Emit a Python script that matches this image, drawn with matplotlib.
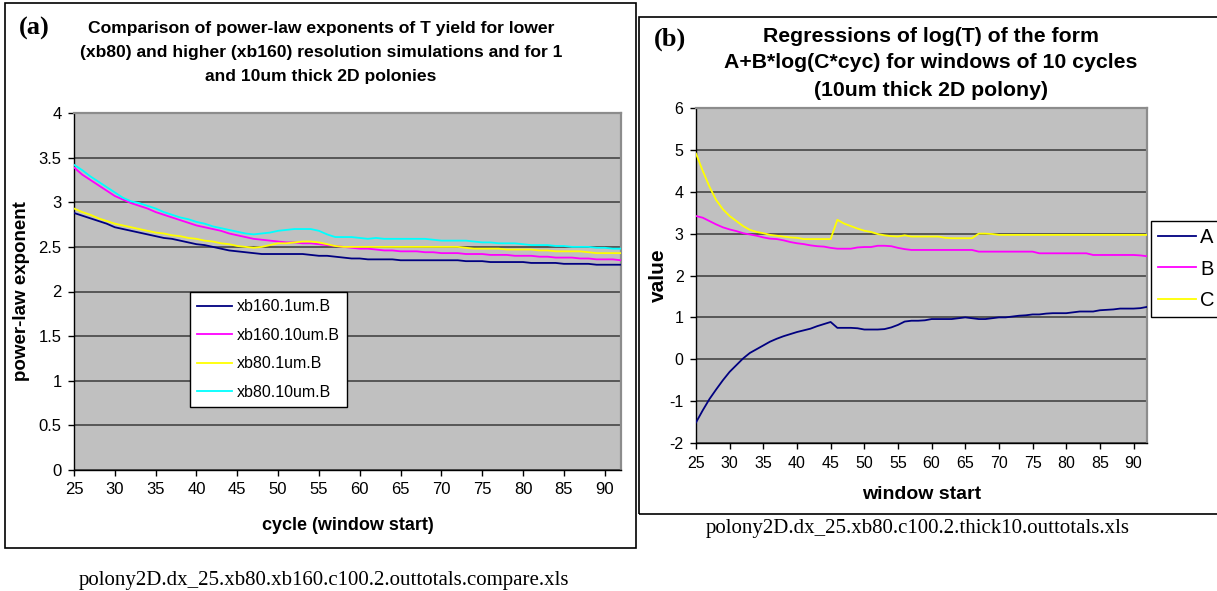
import matplotlib
matplotlib.use("Agg")
import matplotlib.pyplot as plt
import matplotlib.transforms as mtransforms
from matplotlib.patches import Rectangle
import numpy as np

W, H = 1217, 591

# window start (category axis shared by both charts)
cycles = np.arange(25, 93)
tick_cycles = [25, 30, 35, 40, 45, 50, 55, 60, 65, 70, 75, 80, 85, 90]

# (a) power-law exponents
xb160_1um = [2.88, 2.85, 2.82, 2.79, 2.76, 2.72, 2.70, 2.68, 2.66, 2.64,
             2.62, 2.60, 2.59, 2.57, 2.55, 2.53, 2.52, 2.50, 2.48, 2.46,
             2.45, 2.44, 2.43, 2.42, 2.42, 2.42, 2.42, 2.42, 2.42, 2.41,
             2.40, 2.40, 2.39, 2.38, 2.37, 2.37, 2.36, 2.36, 2.36, 2.36,
             2.35, 2.35, 2.35, 2.35, 2.35, 2.35, 2.35, 2.35, 2.34, 2.34,
             2.34, 2.33, 2.33, 2.33, 2.33, 2.33, 2.32, 2.32, 2.32, 2.32,
             2.31, 2.31, 2.31, 2.31, 2.30, 2.30, 2.30, 2.30]
xb160_10um = [3.39, 3.31, 3.25, 3.19, 3.13, 3.07, 3.03, 2.99, 2.96, 2.93,
              2.89, 2.86, 2.83, 2.80, 2.77, 2.74, 2.72, 2.70, 2.68, 2.65,
              2.63, 2.61, 2.59, 2.58, 2.57, 2.56, 2.55, 2.55, 2.54, 2.54,
              2.53, 2.52, 2.51, 2.50, 2.49, 2.48, 2.48, 2.47, 2.46, 2.46,
              2.45, 2.45, 2.45, 2.44, 2.44, 2.43, 2.43, 2.43, 2.42, 2.42,
              2.42, 2.41, 2.41, 2.41, 2.40, 2.40, 2.40, 2.39, 2.39, 2.38,
              2.38, 2.38, 2.37, 2.37, 2.36, 2.36, 2.36, 2.35]
xb80_1um = [2.93, 2.89, 2.86, 2.82, 2.79, 2.76, 2.74, 2.72, 2.70, 2.68,
            2.66, 2.65, 2.63, 2.62, 2.60, 2.59, 2.57, 2.56, 2.54, 2.53,
            2.51, 2.50, 2.49, 2.50, 2.52, 2.54, 2.54, 2.55, 2.56, 2.56,
            2.55, 2.53, 2.51, 2.50, 2.50, 2.50, 2.50, 2.50, 2.50, 2.50,
            2.50, 2.50, 2.50, 2.50, 2.50, 2.50, 2.50, 2.50, 2.49, 2.48,
            2.48, 2.48, 2.48, 2.47, 2.47, 2.47, 2.47, 2.46, 2.46, 2.45,
            2.45, 2.45, 2.45, 2.44, 2.43, 2.43, 2.43, 2.43]
xb80_10um = [3.42, 3.36, 3.29, 3.23, 3.17, 3.11, 3.05, 3.01, 2.99, 2.96,
             2.93, 2.89, 2.86, 2.83, 2.81, 2.78, 2.76, 2.73, 2.71, 2.69,
             2.67, 2.65, 2.64, 2.65, 2.66, 2.68, 2.69, 2.70, 2.70, 2.70,
             2.68, 2.64, 2.61, 2.61, 2.61, 2.60, 2.59, 2.60, 2.59, 2.59,
             2.59, 2.59, 2.59, 2.59, 2.58, 2.57, 2.57, 2.57, 2.57, 2.56,
             2.55, 2.55, 2.54, 2.54, 2.54, 2.53, 2.52, 2.52, 2.52, 2.51,
             2.51, 2.50, 2.50, 2.50, 2.49, 2.49, 2.48, 2.48]

# (b) regression coefficients
coef_A = [-1.51, -1.22, -0.95, -0.72, -0.50, -0.30, -0.14, 0.02, 0.15, 0.24,
          0.33, 0.42, 0.49, 0.55, 0.60, 0.65, 0.69, 0.73, 0.79, 0.84,
          0.89, 0.75, 0.75, 0.75, 0.74, 0.71, 0.71, 0.71, 0.72, 0.76,
          0.82, 0.90, 0.92, 0.92, 0.93, 0.96, 0.96, 0.96, 0.96, 0.98,
          1.00, 0.98, 0.96, 0.96, 0.98, 1.00, 1.00, 1.02, 1.04, 1.05,
          1.07, 1.07, 1.09, 1.10, 1.10, 1.10, 1.12, 1.14, 1.14, 1.14,
          1.17, 1.18, 1.19, 1.21, 1.21, 1.21, 1.22, 1.25]
coef_B = [3.42, 3.38, 3.30, 3.22, 3.15, 3.10, 3.06, 3.01, 2.98, 2.95,
          2.91, 2.88, 2.87, 2.84, 2.80, 2.77, 2.75, 2.72, 2.70, 2.69,
          2.66, 2.64, 2.64, 2.64, 2.67, 2.68, 2.68, 2.71, 2.71, 2.70,
          2.66, 2.63, 2.61, 2.61, 2.61, 2.61, 2.61, 2.61, 2.61, 2.61,
          2.61, 2.61, 2.57, 2.57, 2.57, 2.57, 2.57, 2.57, 2.57, 2.57,
          2.57, 2.53, 2.53, 2.53, 2.53, 2.53, 2.53, 2.53, 2.53, 2.49,
          2.49, 2.49, 2.49, 2.49, 2.49, 2.49, 2.48, 2.46]
coef_C = [4.91, 4.50, 4.12, 3.80, 3.58, 3.42, 3.30, 3.18, 3.09, 3.04,
          3.01, 2.97, 2.95, 2.93, 2.91, 2.90, 2.87, 2.87, 2.87, 2.87,
          2.87, 3.33, 3.24, 3.18, 3.12, 3.07, 3.04, 2.99, 2.96, 2.94,
          2.93, 2.96, 2.93, 2.93, 2.93, 2.93, 2.93, 2.90, 2.89, 2.89,
          2.89, 2.89, 3.00, 3.00, 2.99, 2.97, 2.97, 2.97, 2.97, 2.97,
          2.97, 2.97, 2.97, 2.97, 2.97, 2.97, 2.97, 2.97, 2.97, 2.97,
          2.97, 2.97, 2.97, 2.97, 2.97, 2.97, 2.97, 2.97]

SANS = "Liberation Sans"
SERIF = "Liberation Serif"
plt.rcParams["font.family"] = SANS

fig = plt.figure(figsize=(W / 100, H / 100), dpi=100)


def px_axes(x0, y0, x1, y1):
    return fig.add_axes([x0 / W, 1 - y1 / H, (x1 - x0) / W, (y1 - y0) / H])


def px_text(x, y, s, **kw):
    return fig.text(x / W, 1 - y / H, s, **kw)


def px_box(x0, y0, x1, y1):
    fig.patches.append(Rectangle((x0 / W, 1 - y1 / H), (x1 - x0) / W, (y1 - y0) / H,
                                 transform=fig.transFigure, fill=False,
                                 ec="black", lw=1.2))


def style_axes(ax, ylim, yticks, fs):
    ax.set_facecolor("#c0c0c0")
    ax.set_xlim(25, 92)
    ax.set_ylim(*ylim)
    ax.set_yticks(yticks)
    ax.set_yticklabels([f"{t:g}" for t in yticks], fontsize=fs)
    ax.set_xticks(tick_cycles)
    ax.set_xticklabels([str(t) for t in tick_cycles], fontsize=fs)
    off = mtransforms.ScaledTranslation(3 / 100, 0, fig.dpi_scale_trans)
    for lab in ax.get_xticklabels():
        lab.set_transform(lab.get_transform() + off)
    for t in yticks:
        ax.axhline(t, color="#3a3a3a", lw=1.1, zorder=1)
    for side in ("top", "right"):
        ax.spines[side].set_color("#8c8c8c")
        ax.spines[side].set_linewidth(1.6)
    for side in ("left", "bottom"):
        ax.spines[side].set_color("black")
        ax.spines[side].set_linewidth(1.0)
    ax.tick_params(axis="both", direction="out", length=4, width=1, color="black", pad=5)


# ---------------- panel (a) ----------------
px_box(5, 3, 636, 548)
ax1 = px_axes(74, 113, 621, 470)
style_axes(ax1, (0, 4), [0, 0.5, 1, 1.5, 2, 2.5, 3, 3.5, 4], 12)
ax1.plot(cycles, xb160_1um, color="#000080", lw=1.3, label="xb160.1um.B", zorder=3)
ax1.plot(cycles, xb160_10um, color="#ff00ff", lw=1.3, label="xb160.10um.B", zorder=3)
ax1.plot(cycles, xb80_1um, color="#ffff00", lw=1.3, label="xb80.1um.B", zorder=3)
ax1.plot(cycles, xb80_10um, color="#00ffff", lw=1.3, label="xb80.10um.B", zorder=3)
leg1 = ax1.legend(loc="upper left", bbox_to_anchor=(190 / W, 1 - 292 / H),
                  bbox_transform=fig.transFigure, borderaxespad=0, fontsize=11.5,
                  handlelength=2.2, handletextpad=0.25, labelspacing=0.85,
                  borderpad=0.45, fancybox=False, framealpha=1, edgecolor="black")
leg1.get_frame().set_linewidth(1.0)

ax1.set_xlabel("cycle (window start)", fontsize=13, fontweight="bold", labelpad=14)
ax1.set_ylabel("power-law exponent", fontsize=13.5, fontweight="bold", labelpad=6)

px_text(34, 28, "(a)", family=SERIF, fontsize=19, fontweight="bold", ha="center", va="center")
for y, line in zip([29, 53, 77], ["Comparison of power-law exponents of T yield for lower",
                                  "(xb80) and higher (xb160) resolution simulations and for 1",
                                  "and 10um thick 2D polonies"]):
    px_text(321, y, line, fontsize=12.6, fontweight="bold", ha="center", va="center")
px_text(324, 585, "polony2D.dx_25.xb80.xb160.c100.2.outtotals.compare.xls",
        family=SERIF, fontsize=15, ha="center", va="baseline")

# ---------------- panel (b) ----------------
px_box(639, 17, 1240, 514)
ax2 = px_axes(696, 108, 1147, 443)
style_axes(ax2, (-2, 6), [-2, -1, 0, 1, 2, 3, 4, 5, 6], 11.5)
ax2.plot(cycles, coef_A, color="#000080", lw=1.3, label="A", zorder=3)
ax2.plot(cycles, coef_B, color="#ff00ff", lw=1.3, label="B", zorder=3)
ax2.plot(cycles, coef_C, color="#ffff00", lw=1.3, label="C", zorder=3)
leg2 = ax2.legend(loc="upper left", bbox_to_anchor=(1151 / W, 1 - 221 / H),
                  bbox_transform=fig.transFigure, borderaxespad=0, fontsize=14.5,
                  handlelength=1.9, handletextpad=0.2, labelspacing=0.62,
                  borderpad=0.35, fancybox=False, framealpha=1, edgecolor="black")
leg2.get_frame().set_linewidth(1.0)

ax2.set_xlabel("window start", fontsize=14, fontweight="bold", labelpad=11)
ax2.set_ylabel("value", fontsize=15, fontweight="bold", labelpad=1)

px_text(670, 39, "(b)", family=SERIF, fontsize=19, fontweight="bold", ha="center", va="center")
for y, line in zip([37, 63, 90], ["Regressions of log(T) of the form",
                                  "A+B*log(C*cyc) for windows of 10 cycles",
                                  "(10um thick 2D polony)"]):
    px_text(931, y, line, fontsize=15.3, fontweight="bold", ha="center", va="center")
px_text(918, 533, "polony2D.dx_25.xb80.c100.2.thick10.outtotals.xls",
        family=SERIF, fontsize=15, ha="center", va="baseline")

fig.savefig("out.png", dpi=100, facecolor="white")
